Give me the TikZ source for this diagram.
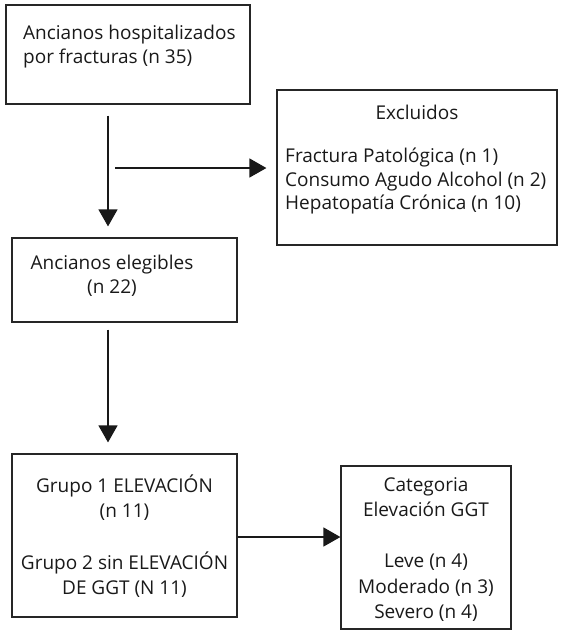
\documentclass[tikz,border=0pt]{standalone}
\usepackage{fontspec}
\setmainfont{Open Sans}
\usetikzlibrary{arrows.meta,positioning}

\begin{document}
\begin{tikzpicture}[x=1pt,y=-1pt,
  caja/.style={draw=black!85, line width=1.2pt, inner sep=0pt},
  texto/.style={inner sep=0pt, font=\fontsize{19}{24.5}\selectfont, text=black!90},
  flecha/.style={draw=black!90, line width=1.5pt, -{Triangle[length=17pt,width=19pt]}}]

\useasboundingbox (0,0) rectangle (561,630);

%% cajas
\node[caja, minimum width=244pt, minimum height=99pt]  (hosp)  at (128,54.5)    {};
\node[caja, minimum width=280pt, minimum height=155pt] (excl)  at (417,167.5)   {};
\node[caja, minimum width=225pt, minimum height=84pt]  (eleg)  at (124.5,280)   {};
\node[caja, minimum width=225pt, minimum height=163pt] (grupo) at (124.5,535.5) {};
\node[caja, minimum width=170pt, minimum height=163pt] (categ) at (426,547.5)   {};

%% textos
\node[texto, anchor=north west, align=left] (hospT) at (23,24.5)
  {Ancianos hospitalizados\\por fracturas (n 35)};
\node[texto, anchor=base] (exclT) at (417,119) {Excluidos};
\node[texto, anchor=north west, align=left, font=\fontsize{19}{23.5}\selectfont] (exclL) at (285,148)
  {Fractura Patológica (n 1)\\Consumo Agudo Alcohol (n 2)\\Hepatopatía Crónica (n 10)};
\node[texto, anchor=north, align=center] (elegT) at (112,254.5)
  {Ancianos elegibles\\(n 22)};
\node[texto, anchor=north, align=center] (grupoT) at (124.5,475)
  {Grupo 1 ELEVACIÓN\\(n 11)\\[28pt]Grupo 2 sin ELEVACIÓN\\DE GGT (N 11)};
\node[texto, anchor=north, align=center, font=\fontsize{19}{25.5}\selectfont] (categT) at (426,477)
  {Categoria\\Elevación GGT\\[25.5pt]Leve (n 4)\\Moderado (n 3)\\Severo (n 4)};

%% flechas
\coordinate (rama) at (115,168);
\draw[flecha] ([xshift=-20pt,yshift=-11pt]hosp.south) -- ([xshift=-16.5pt,yshift=11pt]eleg.north);
\draw[flecha] (rama) -- ([xshift=-10pt]rama -| excl.west);
\draw[flecha] ([xshift=-16.5pt,yshift=-7pt]eleg.south) -- ([xshift=-16.5pt,yshift=11pt]grupo.north);
\draw[flecha] ([yshift=-1.5pt]grupo.east) -- ([yshift=-1.5pt]grupo.east -| categ.west);

\end{tikzpicture}
\end{document}
